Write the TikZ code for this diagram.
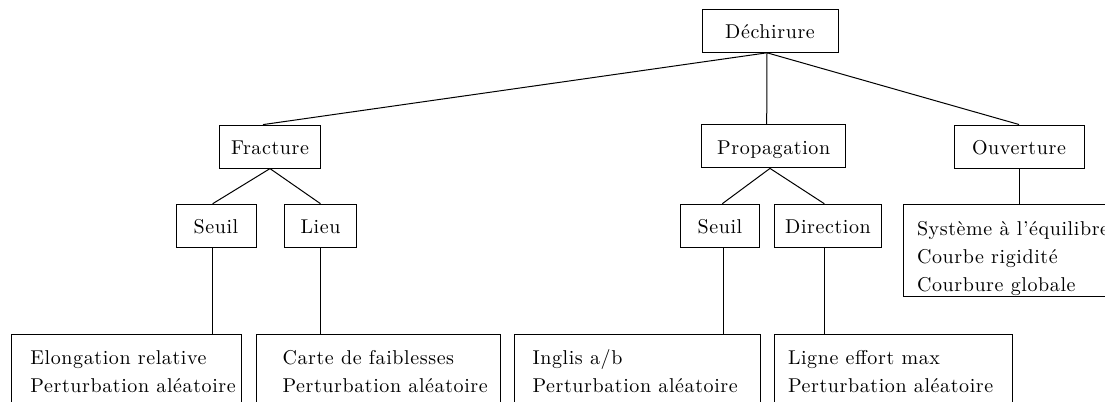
\documentclass[tikz,border=0pt]{standalone}
\usepackage{fontspec}
\setmainfont{lmroman10-regular}[Extension=.otf, LetterSpace=3]
\begin{document}
\begin{tikzpicture}[x=0.5pt, y=-0.5pt, line width=0.5pt,
  box/.style={draw, inner sep=0pt, minimum height=21.5pt, anchor=center, text height=8pt, text depth=0pt},
  bigbox/.style={draw, inner sep=0pt, anchor=north west},
  txt/.style={inner sep=0pt, anchor=base west, font=\fontsize{10}{12}\selectfont},
  lbl/.style={font=\fontsize{10}{12}\selectfont}]
\clip (0,0) rectangle (1105,402);
\fill[white] (0,0) rectangle (1105,402);
% level 0
\node[box, lbl, minimum width=68pt] (dech) at (770,30.8) {Déchirure};
% level 1
\node[box, lbl, minimum width=50.7pt] (frac) at (270,146.6) {Fracture};
\node[box, lbl, minimum width=72pt] (prop) at (773.7,146.4) {Propagation};
\node[box, lbl, minimum width=65pt] (ouv) at (1019,146.5) {Ouverture};
% level 2
\node[box, lbl, minimum width=40pt] (s1) at (216,225.7) {Seuil};
\node[box, lbl, minimum width=36.2pt] (lieu) at (320.5,225.7) {Lieu};
\node[box, lbl, minimum width=39.3pt] (s2) at (720,225.7) {Seuil};
\node[box, lbl, minimum width=53.7pt] (dir) at (828,225.7) {Direction};
\node[bigbox, minimum width=120pt, minimum height=46pt] (olist) at (903.3,204) {};
\node[txt] (ol1) at (916.5,235) {Système à l'équilibre};
\node[txt] (ol2) at (916.5,263) {Courbe rigidité};
\node[txt] (ol3) at (916.5,291) {Courbure globale};
% level 3
\node[bigbox, minimum width=114.8pt, minimum height=50pt] (b1) at (11,334) {};
\node[bigbox, minimum width=122.2pt, minimum height=50pt] (b2) at (255.7,334) {};
\node[bigbox, minimum width=123pt, minimum height=50pt] (b3) at (514,334) {};
\node[bigbox, minimum width=119pt, minimum height=50pt] (b4) at (774,334) {};
\node[txt] (b1a) at (30,364) {Elongation relative};
\node[txt] (b1b) at (30,392) {Perturbation aléatoire};
\node[txt] (b2a) at (282,364) {Carte de faiblesses};
\node[txt] (b2b) at (282,392) {Perturbation aléatoire};
\node[txt] (b3a) at (532,364) {Inglis a/b};
\node[txt] (b3b) at (532,392) {Perturbation aléatoire};
\node[txt] (b4a) at (787.5,364) {Ligne effort max};
\node[txt] (b4b) at (787.5,392) {Perturbation aléatoire};
% connectors
\draw ([xshift=-1.5pt]dech.south) -- ([xshift=-3.5pt]frac.north);
\draw ([xshift=-1.5pt]dech.south) -- ([xshift=-3.5pt]prop.north);
\draw ([xshift=-1.5pt]dech.south) -- (ouv.north);
\draw (frac.south) -- ([xshift=-1.65pt]s1.north);
\draw (frac.south) -- (lieu.north);
\draw ([xshift=-1.85pt]prop.south) -- ([xshift=1.15pt]s2.north);
\draw ([xshift=-1.85pt]prop.south) -- ([xshift=-1.85pt]dir.north);
\draw ([xshift=-1.75pt]s1.south) -- ([xshift=-1.75pt]s1.south |- b1.north);
\draw (lieu.south) -- (lieu.south |- b2.north);
\draw ([xshift=1.65pt]s2.south) -- ([xshift=1.65pt]s2.south |- b3.north);
\draw ([xshift=-1.85pt]dir.south) -- ([xshift=-1.85pt]dir.south |- b4.north);
\draw (ouv.south) -- (ouv.south |- olist.north);
\end{tikzpicture}
\end{document}
